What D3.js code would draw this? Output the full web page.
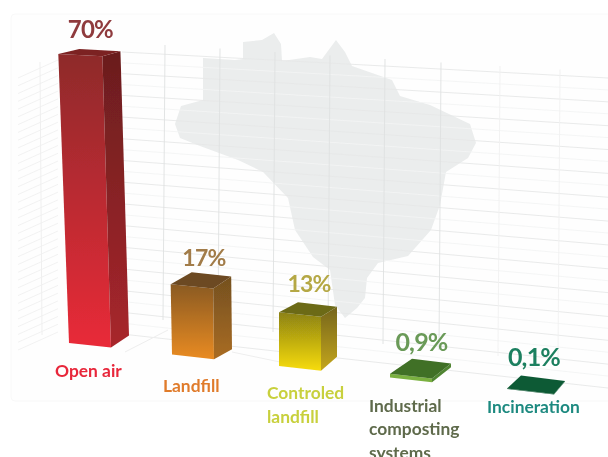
<!DOCTYPE html>
<html>
<head>
<meta charset="utf-8">
<script src="https://cdn.jsdelivr.net/npm/d3@7"></script>
<style>
  html, body { margin: 0; padding: 0; background: #fff; overflow: hidden; }
  svg { display: block; }
  text { font-family: Lato, "Open Sans", sans-serif; }
</style>
</head>
<body>
<svg id="chart" width="608" height="457"></svg>
<script>
const categories = ["Open air", "Landfill", "Controled landfill", "Industrial composting systems", "Incineration"];
const values = [70, 17, 13, 0.9, 0.1];
const valueLabels = ["70%", "17%", "13%", "0,9%", "0,1%"];
const labelLines = [["Open air"], ["Landfill"], ["Controled", "landfill"], ["Industrial", "composting", "systems"], ["Incineration"]];

// outline of the map behind the bars
const brazilOutline = [
  [203, 58], [235, 60], [243, 59], [243, 42], [262, 40], [274, 33], [281, 44], [282, 61], [310, 57],
  [322, 59], [336, 40], [345, 52], [352, 66], [372, 73], [392, 80], [400, 96], [430, 105], [470, 124],
  [476, 143], [468, 158], [446, 172], [440, 205], [431, 230], [408, 256], [378, 263], [367, 278],
  [365, 298], [357, 308], [345, 318], [335, 305], [330, 270], [313, 257], [295, 230], [288, 198],
  [263, 172], [238, 160], [200, 146], [180, 138], [175, 124], [181, 106], [203, 100]
];

const colors = [
  { front: ["#8e2a2b", "#e92a38"], side: ["#6a1e1e", "#a8262c"], top: "#7c2323", value: "#8f3b3e", label: "#e8273a" },
  { front: ["#8a5a24", "#e98b20"], side: ["#74501f", "#a96c22"], top: "#6c4820", value: "#a27c48", label: "#e07b2c" },
  { front: ["#8c8212", "#f7dc10"], side: ["#75651a", "#c4a61a"], top: "#6c6a18", value: "#b5a845", label: "#c8d03c" },
  { front: ["#7ab040", "#7ab040"], side: ["#4f8430", "#4f8430"], top: "#3f6f26", value: "#6a9a58", label: "#5f6b4c" },
  { front: ["#0f5a35", "#0f5a35"], side: ["#0f5a35", "#0f5a35"], top: "#0f5a35", value: "#1f8060", label: "#1f8a80" }
];

const svg = d3.select("#chart");
const defs = svg.append("defs");
defs.append("filter").attr("id", "soft").append("feGaussianBlur").attr("stdDeviation", 0.55);

const index = d3.range(categories.length);
const x = d3.scaleLinear().domain(index).range([69, 172, 279, 390, 507]);
const floor = d3.scaleLinear().domain([0, 4]).range([343, 389]);
const y = d3.scaleLinear().domain([0, 70]).range([289, 0]);
const barWidth = d3.scaleLinear().domain([0, 3, 4]).range([42, 42, 47]);
const depthX = d3.scaleLinear().domain(index).range([18, 18, 16, 19, 11]);
const depthTop = d3.scaleLinear().domain(index).range([-5, -12, -10, -15, -13]);
const depthBottom = d3.scaleLinear().domain(index).range([-12, -10, -14, -15, -13]);

// vertical edges lean in towards the middle, as in the perspective of the original
const lean = px => Math.max(0, 0.037 - (px - 69) * 0.000176);
const slope = py => 0.1 + (py - 300) * 0.0002;

function barPoints(i) {
  const bx = x(i), by = floor(i), w = barWidth(i), h = y(0) - y(values[i]);
  const dx = depthX(i), dt = depthTop(i), db = depthBottom(i);
  const fb = [bx, by];
  const gb = [bx + w, by + w * slope(by)];
  const topY = by - h;
  const ft = [bx - h * lean(bx), topY];
  const gt = [bx + w - h * lean(bx + w), topY + w * slope(topY)];
  return {
    front: [ft, gt, gb, fb],
    side: [gt, [gt[0] + dx, gt[1] + dt], [gb[0] + dx, gb[1] + db], gb],
    top: [ft, [ft[0] + dx + 3, ft[1] + dt], [gt[0] + dx, gt[1] + dt], gt]
  };
}

const line = d3.line();
const closed = pts => line(pts) + "Z";

// paper panel
const paper = svg.append("g").attr("filter", "url(#soft)");
paper.append("rect")
  .attr("x", 11).attr("y", 14).attr("width", 610).attr("height", 387).attr("rx", 4)
  .attr("fill", "#fefefe").attr("stroke", "#f8f8f8");

paper.append("path").attr("d", closed(brazilOutline)).attr("fill", "#ebeded");

// back wall grid
const rows = d3.range(27);
const leftEdge = d3.scaleLinear().domain([0, 26]).range([52, 334]);
const rightEdge = d3.scaleLinear().domain([0, 26]).range([78, 388]);
paper.append("g").selectAll("line").data(rows).join("line")
  .attr("x1", 122).attr("x2", 608)
  .attr("y1", d => leftEdge(d)).attr("y2", d => rightEdge(d))
  .attr("stroke", d => d % 2 ? "#f3f4f4" : "#e6e8e8").attr("stroke-width", 0.9);

const columns = [165, 220, 275, 330, 385, 441, 500, 560];
paper.append("g").selectAll("line").data(columns).join("line")
  .attr("x1", d => d).attr("x2", d => d - 2)
  .attr("y1", (d, i) => 45 + i * 3.5).attr("y2", (d, i) => 320 + i * 6)
  .attr("stroke", (d, i) => i > 5 ? "#f1f1f1" : "#dfe1e1").attr("stroke-width", 0.9);

// left wall hatching
const wallRows = d3.range(36);
const wallEdge = d3.scaleLinear().domain([0, 35]).range([78, 350]);
paper.append("g").selectAll("line").data(wallRows).join("line")
  .attr("x1", 18).attr("x2", 58)
  .attr("y1", d => wallEdge(d)).attr("y2", d => wallEdge(d) - 18)
  .attr("stroke", "#efefef").attr("stroke-width", 0.8);
paper.append("line").attr("x1", 40).attr("y1", 62).attr("x2", 42).attr("y2", 335)
  .attr("stroke", "#efefef");

// floor lines
paper.append("line").attr("x1", 125).attr("y1", 352).attr("x2", 168).attr("y2", 330)
  .attr("stroke", "#eeeeee");
paper.append("line").attr("x1", 232).attr("y1", 352).attr("x2", 280).attr("y2", 362)
  .attr("stroke", "#eeeeee");

// gradients
index.forEach(i => {
  ["front", "side"].forEach(face => {
    const g = defs.append("linearGradient").attr("id", `${face}-${i}`)
      .attr("x1", 0).attr("x2", 0).attr("y1", 0).attr("y2", 1);
    g.append("stop").attr("offset", 0).attr("stop-color", colors[i][face][0]);
    g.append("stop").attr("offset", 1).attr("stop-color", colors[i][face][1]);
  });
});

const bars = svg.append("g").attr("filter", "url(#soft)")
  .selectAll("g").data(index).join("g");

bars.append("path").attr("d", i => closed(barPoints(i).front)).attr("fill", i => `url(#front-${i})`);
bars.append("path").attr("d", i => closed(barPoints(i).side)).attr("fill", i => `url(#side-${i})`);
bars.append("path").attr("d", i => closed(barPoints(i).top)).attr("fill", i => colors[i].top);

// value labels sit on the middle of each bar's top face
const valueSize = [24, 23, 23, 25, 25];
const valueShift = [1, 3, 1, 1, -2];
const valueRise = [11, 6, 10, 8, 10];
const labels = svg.append("g").attr("filter", "url(#soft)");
labels.selectAll(".value").data(index).join("text")
  .attr("class", "value")
  .attr("text-anchor", "middle")
  .attr("x", i => {
    const t = barPoints(i).top;
    return (t[0][0] + t[2][0]) / 2 + valueShift[i];
  })
  .attr("y", i => barPoints(i).top[1][1] - valueRise[i])
  .attr("font-size", i => valueSize[i])
  .attr("font-weight", 700)
  .attr("letter-spacing", -0.8)
  .attr("fill", i => colors[i].value)
  .text(i => valueLabels[i]);

const labelDx = [-14, -9, -12, -21, -20];
const labelDy = [34, 37, 33, 34, 24];
const lineGap = 23.5;

const names = labels.selectAll(".name").data(index).join("text")
  .attr("class", "name")
  .attr("font-size", 17.4)
  .attr("font-weight", 700)
  .attr("fill", i => colors[i].label);

names.selectAll("tspan").data(i => labelLines[i].map((t, k) => ({ t, k, i }))).join("tspan")
  .attr("x", d => x(d.i) + labelDx[d.i])
  .attr("y", d => floor(d.i) + labelDy[d.i] + d.k * lineGap)
  .text(d => d.t);
</script>
</body>
</html>
